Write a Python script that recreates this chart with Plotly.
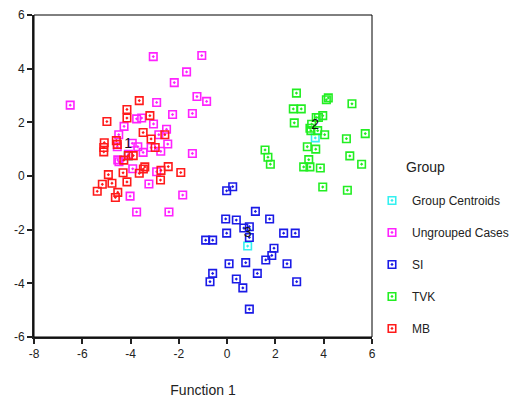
import plotly.graph_objects as go

# ---- data (Function 1, Function 2) ----
centroid_x = [-4.10, 3.65, 0.85]
centroid_y = [0.75, 1.42, -2.61]
centroid_labels = ["1", "2", "3"]
label_y = [1.19, 1.90, -2.13]

ungrouped_x = [-6.50, -3.06, -1.05, -1.68, -2.19, -1.25, -0.85, -2.92, -1.44, -2.26,
               -4.27, -3.75, -3.54, -3.05, -4.49, -2.51, -2.83, -4.55, -3.93, -3.70,
               -3.48, -3.15, -2.75, -2.46, -1.44, -4.53, -4.48, -3.91, -2.92, -3.24,
               -1.84, -4.02, -3.75, -2.41, -4.09]
ungrouped_y = [2.64, 4.45, 4.49, 3.88, 3.48, 2.96, 2.78, 2.74, 2.33, 2.29,
               1.85, 2.13, 2.16, 1.94, 1.54, 1.74, 1.54, 1.09, 1.22, 1.09,
               0.88, 1.06, 0.92, 1.19, 0.84, 0.60, 0.53, 0.27, 0.16, -0.30,
               -0.71, -0.75, -1.34, -1.34, 0.81]

si_x = [-0.02, 0.23, 1.17, -0.06, 0.38, 1.76, 0.69, 0.92, 0.92, -0.02,
        -0.89, -0.60, 2.34, 2.82, 1.94, 1.85, 1.60, 2.48, 0.08, 0.77,
        -0.60, -0.71, 0.38, 0.65, 1.25, 2.88, 0.92]
si_y = [-0.55, -0.40, -1.32, -1.60, -1.64, -1.60, -1.94, -1.89, -2.29, -2.13,
        -2.39, -2.39, -2.13, -2.13, -2.69, -2.96, -3.13, -3.27, -3.27, -3.23,
        -3.63, -3.94, -3.84, -4.17, -3.63, -3.94, -4.96]

tvk_x = [2.87, 4.11, 4.19, 5.17, 2.74, 3.07, 3.96, 3.69, 3.78, 2.78,
         3.50, 3.47, 3.75, 4.04, 5.72, 4.94, 1.57, 1.69, 1.79, 3.32,
         3.67, 5.08, 3.38, 3.17, 3.43, 3.86, 5.57, 3.96, 4.98, 3.43]
tvk_y = [3.09, 2.84, 2.91, 2.69, 2.50, 2.50, 2.25, 2.18, 2.18, 1.98,
         1.93, 1.69, 1.69, 1.54, 1.58, 1.39, 0.97, 0.70, 0.44, 1.09,
         1.00, 0.75, 0.61, 0.34, 0.34, 0.30, 0.44, -0.41, -0.53, 1.78]

mb_x = [-3.64, -3.20, -4.98, -4.15, -4.15, -3.48, -2.58, -5.09, -5.11, -5.11,
        -4.59, -4.55, -3.15, -2.98, -4.09, -3.89, -4.28, -3.41, -3.47, -3.64,
        -2.74, -2.44, -1.92, -4.31, -4.92, -4.77, -5.17, -5.38, -4.53, -4.15,
        -2.76, -4.63]
mb_y = [2.81, 2.25, 2.03, 2.48, 2.16, 1.62, 1.54, 1.24, 1.06, 0.90,
        1.32, 1.18, 1.38, 1.06, 0.76, 0.76, 0.59, 0.34, 0.26, 0.10,
        0.21, 0.35, 0.13, 0.12, 0.05, -0.27, -0.31, -0.57, -0.61, -0.22,
        -0.15, -0.80]

x_ticks = [-8, -6, -4, -2, 0, 2, 4, 6]
y_ticks = [-6, -4, -2, 0, 2, 4, 6]

FONT = "Liberation Sans, Arial, sans-serif"

series = [
    ("Group Centroids", centroid_x, centroid_y, "#33f0f0"),
    ("Ungrouped Cases", ungrouped_x, ungrouped_y, "#ff22ff"),
    ("SI", si_x, si_y, "#1a1ae6"),
    ("TVK", tvk_x, tvk_y, "#22ee22"),
    ("MB", mb_x, mb_y, "#ff1a1a"),
]

fig = go.Figure()
for i, (name, xs, ys, col) in enumerate(series):
    fig.add_trace(go.Scatter(
        x=xs, y=ys, mode="markers", name=name, legendgroup=f"g{i}",
        marker=dict(symbol="square-open-dot", size=7.5, color=col,
                    line=dict(width=1.6, color=col)),
    ))

fig.add_trace(go.Scatter(
    x=centroid_x, y=label_y, mode="text", text=centroid_labels,
    textfont=dict(family=FONT, size=14, color="#111111"),
    showlegend=False, hoverinfo="skip",
))

# the page adds an 8px body margin, so the figure is 8px smaller than the window
fig.update_layout(
    width=512, height=390,
    margin=dict(l=26, r=148, t=7, b=61, autoexpand=False),
    paper_bgcolor="white", plot_bgcolor="white",
    font=dict(family=FONT, size=12, color="#222222"),
    showlegend=True,
    legend=dict(
        x=1.0, y=0.469, xanchor="left", yanchor="top",
        font=dict(family=FONT, size=12, color="#222222"),
        tracegroupgap=13,
        bgcolor="rgba(0,0,0,0)",
    ),
    annotations=[dict(text="Group", xref="paper", yref="paper", x=1.157, y=0.528,
                      xanchor="center", yanchor="middle", showarrow=False,
                      font=dict(family=FONT, size=14, color="#222222"))],
    shapes=[dict(type="rect", xref="paper", yref="paper", x0=0, y0=0, x1=1, y1=1,
                 line=dict(color="black", width=1), layer="above")],
)

fig.update_xaxes(
    range=[-8, 6], tickvals=x_ticks, ticktext=[str(v) for v in x_ticks],
    showgrid=False, zeroline=False, showline=True, linewidth=2, linecolor="#222222",
    ticks="outside", ticklen=5, tickwidth=2, tickcolor="#222222", automargin=False,
    tickfont=dict(family=FONT, size=12, color="#222222"),
    title=dict(text="Function 1", font=dict(family=FONT, size=14, color="#222222"),
               standoff=28),
)
fig.update_yaxes(
    range=[-6, 6], tickvals=y_ticks, ticktext=[str(v) for v in y_ticks],
    showgrid=False, zeroline=False, showline=True, linewidth=2, linecolor="#222222",
    ticks="outside", ticklen=5, tickwidth=2, tickcolor="#222222", automargin=False,
    tickfont=dict(family=FONT, size=12, color="#222222"),
)

fig.write_html("out.html")
